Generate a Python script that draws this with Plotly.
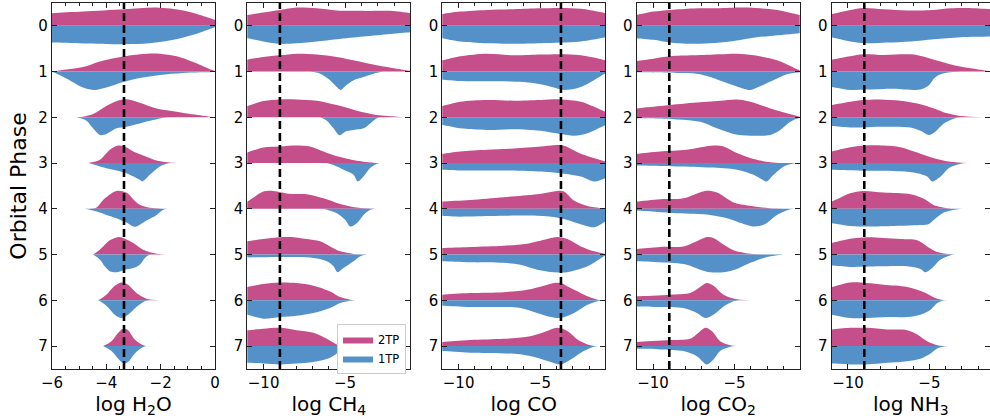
import plotly.graph_objects as go

# ---------------- data ----------------
PHASES = [0, 1, 2, 3, 4, 5, 6, 7]
MOLECULES = ["H2O", "CH4", "CO", "CO2", "NH3"]
X_TITLES = ["log H<sub>2</sub>O", "log CH<sub>4</sub>", "log CO", "log CO<sub>2</sub>", "log NH<sub>3</sub>"]
X_RANGES = [[-6, 0], [-11, -1], [-11, -1], [-11, -1], [-11, -1.28]]
X_TICKVALS = [[-6, -4, -2, 0], [-10, -5], [-10, -5], [-10, -5], [-10, -5]]
X_TICKTEXT = [["\u22126", "\u22124", "\u22122", "0"], ["\u221210", "\u22125"], ["\u221210", "\u22125"],
              ["\u221210", "\u22125"], ["\u221210", "\u22125"]]
X_MINOR = [0.5, 1, 1, 1, 1]
TRUE_VALUES = [-3.35, -9.0, -3.72, -9.0, -9.0]
SERIES = ["2TP", "1TP"]

# violin half-profiles: per phase a list of (log abundance, relative density 0..1)
H2O_2TP = [
    [(-6.5, 0.6), (-6, 0.69), (-4.86, 0.78), (-3.34, 0.91), (-2.15, 1.0), (-1.17, 0.84), (-0.55, 0.6), (0, 0.33), (0.25, 0.15), (0.5, 0)],
    [(-5.96, 0), (-5.47, 0.11), (-4.86, 0.25), (-4.24, 0.56), (-3.63, 0.76), (-3.01, 0.91), (-2.52, 0.98), (-2.03, 0.98), (-1.41, 0.84), (-0.8, 0.53), (0, 0.04), (0.2, 0)],
    [(-5.47, 0), (-4.86, 0.04), (-4.49, 0.18), (-4.0, 0.62), (-3.5, 0.95), (-3.2, 0.98), (-2.77, 0.8), (-2.15, 0.49), (-1.41, 0.31), (-0.55, 0.11), (-0.06, 0)],
    [(-4.67, 0), (-4.24, 0.18), (-3.87, 0.73), (-3.56, 0.96), (-3.32, 0.91), (-3.01, 0.64), (-2.64, 0.42), (-2.15, 0.15), (-1.53, 0.02), (-1.2, 0)],
    [(-4.79, 0), (-4.36, 0.08), (-4.12, 0.49), (-3.63, 0.98), (-3.26, 0.89), (-3.01, 0.53), (-2.77, 0.22), (-2.40, 0.06), (-1.9, 0)],
    [(-4.49, 0), (-4.24, 0.27), (-3.87, 0.78), (-3.56, 0.96), (-3.38, 0.91), (-3.01, 0.64), (-2.64, 0.27), (-2.15, 0.05), (-1.66, 0)],
    [(-4.30, 0), (-4.0, 0.31), (-3.69, 0.8), (-3.44, 0.98), (-3.20, 0.85), (-2.89, 0.4), (-2.52, 0.09), (-2.03, 0)],
    [(-4.12, 0), (-3.81, 0.27), (-3.56, 0.73), (-3.36, 0.96), (-3.20, 0.87), (-2.95, 0.36), (-2.64, 0.05), (-2.33, 0)],
]
H2O_1TP = [
    [(-6.5, 0.88), (-6, 0.91), (-4.86, 0.96), (-3.34, 1.0), (-2.4, 0.95), (-1.53, 0.76), (-0.8, 0.49), (0, 0.07), (0.2, 0)],
    [(-6.0, 0), (-5.47, 0.38), (-4.86, 0.87), (-4.43, 1.0), (-4.0, 0.87), (-3.34, 0.56), (-2.77, 0.35), (-2.03, 0.18), (-1.17, 0.07), (0, 0.02), (0.2, 0)],
    [(-5.10, 0), (-4.73, 0.18), (-4.49, 0.6), (-4.24, 0.96), (-4.0, 0.91), (-3.63, 0.6), (-3.26, 0.51), (-2.77, 0.33), (-2.27, 0.15), (-1.90, 0.02), (-1.7, 0)],
    [(-4.67, 0), (-4.24, 0.18), (-3.75, 0.36), (-3.26, 0.55), (-2.77, 0.91), (-2.67, 1.0), (-2.40, 0.64), (-2.03, 0.18), (-1.66, 0)],
    [(-4.79, 0), (-4.36, 0.15), (-4.0, 0.33), (-3.63, 0.51), (-3.26, 0.75), (-3.01, 0.96), (-2.89, 0.96), (-2.52, 0.64), (-2.15, 0.33), (-1.90, 0.05), (-1.7, 0)],
    [(-4.49, 0), (-4.24, 0.27), (-4.06, 0.64), (-3.87, 0.91), (-3.63, 0.96), (-3.32, 0.82), (-3.01, 0.73), (-2.77, 0.55), (-2.58, 0.18), (-2.40, 0)],
    [(-4.30, 0), (-4.0, 0.29), (-3.69, 0.78), (-3.44, 0.96), (-3.20, 0.78), (-2.89, 0.36), (-2.58, 0.05), (-2.4, 0)],
    [(-4.12, 0), (-3.81, 0.27), (-3.56, 0.69), (-3.36, 0.95), (-3.20, 0.87), (-2.95, 0.4), (-2.64, 0.05), (-2.45, 0)],
]
CH4_2TP = [
    [(-11.5, 0.55), (-11, 0.6), (-10.02, 0.73), (-8.99, 0.87), (-7.97, 1.0), (-6.74, 0.96), (-5.51, 0.84), (-3.87, 0.82), (-2.23, 0.82), (-1.0, 0.69), (-0.5, 0.6)],
    [(-11.5, 0.55), (-11, 0.65), (-10.02, 0.8), (-8.99, 0.89), (-7.97, 0.98), (-6.74, 0.93), (-5.51, 0.8), (-4.28, 0.58), (-3.05, 0.35), (-1.82, 0.16), (-1.0, 0.04), (-0.7, 0)],
    [(-11.5, 0.5), (-11, 0.62), (-10.02, 0.89), (-8.99, 0.98), (-7.97, 0.98), (-6.74, 0.91), (-5.51, 0.67), (-4.28, 0.36), (-3.05, 0.13), (-1.82, 0.04), (-1.41, 0)],
    [(-11.5, 0.45), (-11, 0.58), (-10.02, 0.85), (-8.99, 0.91), (-7.97, 0.96), (-7.15, 0.91), (-6.33, 0.64), (-5.30, 0.33), (-4.28, 0.13), (-3.25, 0.02), (-3.0, 0)],
    [(-11.5, 0.25), (-11, 0.4), (-10.02, 0.95), (-9.40, 0.98), (-8.38, 0.82), (-7.35, 0.8), (-6.33, 0.58), (-5.30, 0.27), (-4.28, 0.07), (-3.05, 0)],
    [(-11.5, 0.65), (-11, 0.73), (-10.02, 0.85), (-8.99, 0.95), (-8.38, 0.96), (-7.35, 0.85), (-6.53, 0.73), (-5.92, 0.45), (-5.30, 0.18), (-4.48, 0.04), (-3.87, 0)],
    [(-11.5, 0.65), (-11, 0.73), (-10.02, 0.89), (-8.99, 0.98), (-7.97, 0.95), (-6.94, 0.8), (-5.92, 0.49), (-5.30, 0.18), (-4.69, 0.04), (-3.87, 0)],
    [(-11.5, 0.85), (-11, 0.87), (-10.02, 0.95), (-8.99, 1.0), (-7.97, 0.87), (-6.94, 0.73), (-6.12, 0.4), (-5.51, 0.09), (-5.10, 0)],
]
CH4_1TP = [
    [(-11.5, 0.6), (-11, 0.67), (-10.02, 0.85), (-8.99, 0.98), (-7.97, 0.95), (-6.74, 0.85), (-5.51, 0.73), (-3.87, 0.58), (-2.23, 0.44), (-1.0, 0.35), (-0.5, 0.3)],
    [(-7.15, 0), (-6.53, 0.11), (-5.92, 0.47), (-5.51, 0.84), (-5.26, 1.0), (-5.0, 0.8), (-4.48, 0.47), (-3.87, 0.29), (-3.25, 0.11), (-2.64, 0)],
    [(-6.53, 0), (-6.12, 0.18), (-5.71, 0.6), (-5.34, 0.98), (-5.0, 0.78), (-4.48, 0.69), (-3.87, 0.6), (-3.46, 0.33), (-3.05, 0.05), (-2.85, 0)],
    [(-6.12, 0), (-5.51, 0.18), (-4.89, 0.45), (-4.48, 0.64), (-4.22, 1.0), (-3.87, 0.73), (-3.46, 0.27), (-3.05, 0.04), (-2.85, 0)],
    [(-6.33, 0), (-5.51, 0.24), (-5.0, 0.6), (-4.69, 0.96), (-4.28, 0.78), (-3.87, 0.33), (-3.46, 0.05), (-3.2, 0)],
    [(-11.5, 0.13), (-11, 0.15), (-8.99, 0.13), (-6.94, 0.18), (-6.12, 0.36), (-5.71, 0.64), (-5.47, 0.96), (-5.10, 0.73), (-4.48, 0.36), (-4.07, 0.09), (-3.66, 0)],
    [(-11.5, 0.7), (-11, 0.78), (-10.02, 1.0), (-8.99, 0.91), (-7.97, 0.84), (-6.94, 0.69), (-5.92, 0.42), (-5.30, 0.15), (-4.69, 0.02), (-4.4, 0)],
    [(-11.5, 0.88), (-11, 0.91), (-10.02, 0.95), (-8.99, 1.0), (-7.97, 0.95), (-6.94, 0.87), (-5.92, 0.64), (-5.30, 0.27), (-4.89, 0.04), (-4.6, 0)],
]
CO_2TP = [
    [(-11.5, 0.6), (-11, 0.65), (-9.91, 0.78), (-8.26, 0.87), (-6.62, 0.91), (-4.97, 0.96), (-3.74, 0.98), (-2.50, 0.93), (-1.0, 0.69), (-0.5, 0.55)],
    [(-11.5, 0.55), (-11, 0.62), (-9.91, 0.84), (-8.26, 0.98), (-6.62, 0.89), (-4.97, 0.93), (-3.74, 0.95), (-2.50, 0.89), (-1.0, 0.62), (-0.5, 0.5)],
    [(-11.5, 0.55), (-11, 0.62), (-9.91, 0.85), (-8.26, 0.95), (-6.62, 0.91), (-4.97, 0.95), (-3.74, 0.98), (-2.50, 0.85), (-1.0, 0.31), (-0.5, 0.15)],
    [(-11.5, 0.45), (-11, 0.51), (-9.91, 0.64), (-8.26, 0.73), (-6.62, 0.8), (-4.97, 0.91), (-4.15, 0.98), (-3.53, 0.95), (-2.50, 0.51), (-1.0, 0.09), (-0.6, 0)],
    [(-11.5, 0.35), (-11, 0.4), (-9.29, 0.49), (-7.23, 0.64), (-5.18, 0.8), (-3.94, 0.98), (-3.53, 0.95), (-2.91, 0.45), (-2.09, 0.16), (-1.27, 0.04), (-1.0, 0)],
    [(-11.5, 0.33), (-11, 0.36), (-9.29, 0.42), (-7.23, 0.49), (-5.79, 0.6), (-4.56, 0.85), (-3.94, 0.96), (-3.33, 0.85), (-2.50, 0.45), (-1.68, 0.18), (-1.0, 0.04), (-0.7, 0)],
    [(-11.5, 0.28), (-11, 0.31), (-9.29, 0.4), (-7.23, 0.45), (-5.79, 0.58), (-4.77, 0.8), (-4.15, 0.95), (-3.74, 0.95), (-3.12, 0.67), (-2.09, 0.22), (-1.47, 0.04), (-1.0, 0)],
    [(-11.5, 0.2), (-11, 0.22), (-9.29, 0.33), (-7.23, 0.4), (-5.79, 0.51), (-4.77, 0.76), (-3.94, 1.0), (-3.33, 0.82), (-2.71, 0.36), (-2.09, 0.09), (-1.68, 0)],
]
CO_1TP = [
    [(-11.5, 0.6), (-11, 0.67), (-9.91, 0.85), (-8.26, 0.95), (-6.62, 0.98), (-4.97, 0.95), (-3.74, 0.91), (-2.50, 0.85), (-1.0, 0.62), (-0.5, 0.5)],
    [(-11.5, 0.42), (-11, 0.44), (-9.91, 0.51), (-8.26, 0.53), (-6.21, 0.56), (-4.97, 0.69), (-4.15, 0.87), (-3.53, 1.0), (-2.50, 0.84), (-1.0, 0.1), (-0.7, 0)],
    [(-11.5, 0.38), (-11, 0.42), (-9.91, 0.6), (-8.26, 0.69), (-6.62, 0.65), (-4.97, 0.73), (-3.74, 0.91), (-2.91, 1.0), (-2.09, 0.87), (-1.0, 0.42), (-0.5, 0.2)],
    [(-11.5, 0.33), (-11, 0.36), (-9.91, 0.4), (-8.26, 0.4), (-6.21, 0.42), (-4.56, 0.49), (-3.53, 0.58), (-2.50, 0.73), (-1.68, 1.0), (-1.0, 0.82), (-0.5, 0.6)],
    [(-11.5, 0.36), (-11, 0.38), (-10.32, 0.42), (-9.29, 0.42), (-7.23, 0.38), (-5.18, 0.38), (-3.74, 0.51), (-2.71, 0.78), (-1.68, 1.0), (-1.0, 0.69), (-0.5, 0.4)],
    [(-11.5, 0.33), (-11, 0.36), (-9.29, 0.42), (-7.23, 0.45), (-6.21, 0.55), (-5.18, 0.82), (-4.15, 0.96), (-3.33, 0.96), (-2.09, 0.64), (-1.0, 0.05), (-0.8, 0)],
    [(-11.5, 0.27), (-11, 0.29), (-9.29, 0.36), (-7.23, 0.36), (-6.21, 0.42), (-5.18, 0.69), (-4.35, 0.91), (-3.74, 0.96), (-2.91, 0.69), (-2.09, 0.24), (-1.47, 0.05), (-1.2, 0)],
    [(-11.5, 0.25), (-11, 0.27), (-9.29, 0.36), (-7.23, 0.4), (-6.21, 0.45), (-5.18, 0.64), (-4.35, 0.87), (-3.74, 1.0), (-3.12, 0.73), (-2.50, 0.36), (-1.88, 0.09), (-1.47, 0)],
]
CO2_2TP = [
    [(-11.5, 0.55), (-11, 0.6), (-9.98, 0.78), (-8.95, 0.87), (-7.52, 0.95), (-6.08, 0.96), (-4.44, 1.0), (-3.42, 0.96), (-2.39, 0.87), (-1.0, 0.6), (-0.5, 0.5)],
    [(-11.5, 0.5), (-11, 0.58), (-9.98, 0.71), (-8.95, 0.84), (-7.52, 0.89), (-5.88, 0.95), (-4.85, 0.98), (-3.83, 0.89), (-2.39, 0.62), (-1.0, 0.07), (-0.7, 0)],
    [(-11.5, 0.45), (-11, 0.49), (-9.57, 0.62), (-7.52, 0.8), (-5.88, 0.91), (-4.85, 0.98), (-4.03, 0.85), (-2.80, 0.49), (-1.78, 0.22), (-1.0, 0.04), (-0.7, 0)],
    [(-11.5, 0.45), (-11, 0.51), (-9.57, 0.64), (-7.93, 0.73), (-6.29, 0.96), (-5.67, 0.91), (-4.85, 0.55), (-3.83, 0.22), (-2.80, 0.05), (-1.98, 0)],
    [(-11.5, 0.35), (-11, 0.4), (-9.57, 0.53), (-8.13, 0.58), (-6.80, 0.98), (-6.08, 0.89), (-5.06, 0.35), (-4.44, 0.22), (-3.42, 0.09), (-2.39, 0.02), (-1.57, 0)],
    [(-11.5, 0.28), (-11, 0.31), (-9.57, 0.42), (-8.13, 0.45), (-7.31, 0.73), (-6.70, 0.96), (-6.29, 0.91), (-5.67, 0.55), (-5.06, 0.24), (-4.03, 0.05), (-2.39, 0)],
    [(-11.5, 0.2), (-11, 0.22), (-8.95, 0.31), (-7.72, 0.4), (-7.11, 0.73), (-6.70, 0.95), (-6.29, 0.8), (-5.67, 0.31), (-4.85, 0.06), (-3.6, 0)],
    [(-11.5, 0.2), (-11, 0.22), (-8.95, 0.33), (-7.72, 0.4), (-7.21, 0.73), (-6.80, 1.0), (-6.39, 0.82), (-5.88, 0.27), (-5.26, 0.05), (-4.3, 0)],
]
CO2_1TP = [
    [(-11.5, 0.6), (-11, 0.67), (-9.98, 0.76), (-8.95, 0.91), (-7.93, 0.98), (-6.49, 0.95), (-5.26, 0.85), (-4.03, 0.67), (-2.80, 0.55), (-1.0, 0.4), (-0.5, 0.35)],
    [(-11.5, 0.03), (-11, 0.04), (-8.54, 0.07), (-7.31, 0.11), (-6.49, 0.29), (-5.47, 0.62), (-4.44, 0.93), (-4.03, 1.0), (-3.42, 0.8), (-2.39, 0.38), (-1.78, 0.15), (-1.0, 0.04), (-0.7, 0)],
    [(-11.5, 0.04), (-11, 0.05), (-8.54, 0.11), (-7.11, 0.24), (-6.08, 0.6), (-5.06, 0.91), (-4.03, 1.0), (-2.80, 0.96), (-2.19, 0.69), (-1.57, 0.24), (-1.0, 0.02), (-0.8, 0)],
    [(-11.5, 0.12), (-11, 0.13), (-8.54, 0.18), (-6.49, 0.24), (-4.85, 0.36), (-3.83, 0.64), (-3.21, 0.95), (-3.01, 1.0), (-2.60, 0.64), (-1.98, 0.18), (-1.47, 0.04), (-1.2, 0)],
    [(-11.5, 0.08), (-11, 0.09), (-8.54, 0.24), (-6.49, 0.33), (-5.47, 0.51), (-4.44, 0.82), (-3.83, 0.96), (-3.21, 0.87), (-2.39, 0.33), (-1.57, 0.02), (-1.3, 0)],
    [(-11.5, 0.33), (-11, 0.36), (-9.57, 0.42), (-7.93, 0.55), (-7.11, 0.82), (-6.49, 0.96), (-5.67, 0.96), (-4.85, 0.78), (-4.03, 0.45), (-3.21, 0.18), (-2.39, 0.04), (-2.0, 0)],
    [(-11.5, 0.3), (-11, 0.33), (-9.57, 0.36), (-8.13, 0.42), (-7.31, 0.69), (-6.80, 0.96), (-6.29, 0.78), (-5.67, 0.33), (-5.06, 0.05), (-4.7, 0)],
    [(-11.5, 0.13), (-11, 0.15), (-9.57, 0.18), (-8.13, 0.27), (-7.31, 0.55), (-6.70, 1.0), (-6.29, 0.73), (-5.88, 0.27), (-5.26, 0.04), (-4.9, 0)],
]
NH3_2TP = [
    [(-11.5, 0.58), (-11, 0.65), (-9.87, 0.87), (-9.05, 0.98), (-7.81, 0.91), (-6.37, 0.84), (-4.72, 0.87), (-3.70, 0.96), (-2.67, 0.98), (-1.23, 0.91), (-0.5, 0.85)],
    [(-11.5, 0.55), (-11, 0.65), (-9.87, 0.84), (-9.05, 0.95), (-7.81, 0.91), (-5.96, 0.93), (-4.72, 0.65), (-3.49, 0.35), (-2.26, 0.16), (-1.23, 0.02), (-1.0, 0)],
    [(-11.5, 0.58), (-11, 0.67), (-9.87, 0.85), (-9.05, 0.95), (-8.02, 0.98), (-6.78, 0.91), (-5.75, 0.76), (-4.72, 0.49), (-3.90, 0.22), (-3.08, 0.07), (-1.64, 0)],
    [(-11.5, 0.55), (-11, 0.64), (-9.87, 0.87), (-9.05, 0.96), (-7.81, 0.96), (-6.78, 0.87), (-5.75, 0.58), (-4.72, 0.27), (-3.70, 0.07), (-2.67, 0)],
    [(-11.5, 0.3), (-11, 0.4), (-9.87, 0.85), (-9.05, 0.98), (-7.81, 0.89), (-6.16, 0.8), (-5.34, 0.55), (-4.72, 0.2), (-3.90, 0.04), (-3.28, 0)],
    [(-11.5, 0.55), (-11, 0.64), (-9.87, 0.87), (-8.84, 0.95), (-7.81, 0.91), (-6.78, 0.85), (-5.75, 0.78), (-5.14, 0.45), (-4.52, 0.15), (-3.70, 0.02), (-3.2, 0)],
    [(-11.5, 0.65), (-11, 0.73), (-9.87, 0.98), (-8.84, 0.95), (-7.81, 0.85), (-6.37, 0.73), (-5.34, 0.44), (-4.52, 0.09), (-3.90, 0)],
    [(-11.5, 0.88), (-11, 0.91), (-9.87, 1.0), (-8.84, 1.0), (-7.60, 0.91), (-6.37, 0.87), (-5.75, 0.64), (-5.14, 0.27), (-4.52, 0.05), (-4.11, 0)],
]
NH3_1TP = [
    [(-11.5, 0.55), (-11, 0.62), (-9.87, 0.85), (-8.84, 0.95), (-7.60, 0.91), (-6.16, 0.85), (-4.72, 0.73), (-3.08, 0.62), (-1.23, 0.58), (-0.5, 0.55)],
    [(-11.5, 0.78), (-11, 0.84), (-9.87, 1.0), (-8.84, 0.98), (-7.19, 0.93), (-5.55, 0.98), (-5.03, 0.75), (-4.72, 0.38), (-4.31, 0.15), (-3.70, 0.04), (-3.08, 0)],
    [(-11.5, 0.45), (-11, 0.47), (-9.87, 0.55), (-7.81, 0.51), (-6.16, 0.55), (-5.55, 0.73), (-5.03, 0.96), (-4.72, 0.84), (-4.11, 0.33), (-3.49, 0.07), (-3.08, 0)],
    [(-11.5, 0.34), (-11, 0.36), (-8.84, 0.42), (-6.78, 0.45), (-5.75, 0.55), (-5.14, 0.73), (-4.83, 1.0), (-4.31, 0.73), (-3.80, 0.27), (-3.08, 0.04), (-2.67, 0)],
    [(-11.5, 0.75), (-11, 0.78), (-9.87, 0.93), (-8.84, 0.96), (-7.19, 0.93), (-5.96, 0.89), (-5.03, 0.82), (-4.72, 0.6), (-4.11, 0.2), (-3.28, 0.02), (-3.0, 0)],
    [(-11.5, 0.58), (-11, 0.6), (-9.87, 0.67), (-7.81, 0.64), (-6.37, 0.64), (-5.55, 0.78), (-5.24, 0.96), (-4.83, 0.73), (-4.31, 0.27), (-3.70, 0.04), (-3.4, 0)],
    [(-11.5, 0.75), (-11, 0.78), (-9.87, 0.96), (-8.84, 0.96), (-7.60, 0.91), (-6.37, 0.91), (-5.55, 0.78), (-4.93, 0.51), (-4.52, 0.15), (-4.11, 0)],
    [(-11.5, 0.93), (-11, 0.95), (-9.87, 1.0), (-8.84, 1.0), (-7.60, 0.91), (-6.37, 0.82), (-5.55, 0.69), (-4.93, 0.4), (-4.52, 0.13), (-4.11, 0.02), (-3.9, 0)],
]
PROFILES_2TP = [H2O_2TP, CH4_2TP, CO_2TP, CO2_2TP, NH3_2TP]
PROFILES_1TP = [H2O_1TP, CH4_1TP, CO_1TP, CO2_1TP, NH3_1TP]

# ---------------- style / layout ----------------
W, H = 990, 419
COL_2TP = "#c44f8b"
COL_1TP = "#5591c9"
HALF = 0.4           # max half-width of a violin in category units
FONT = "DejaVu Sans"
AX_COL = "#222222"
PANEL_LEFT_PX = [52, 247.3, 442.3, 636.7, 831.7]
PANEL_W_PX = 163
TOP_PX, BOT_PX = 3, 369

fig = go.Figure()


def add_half(prof, c, sign, color, xa, ya, name, show):
    xs = [p[0] for p in prof]
    ys = [c + sign * HALF * p[1] for p in prof]
    if prof[0][1] != 0:
        xs = [xs[0]] + xs
        ys = [c] + ys
    if prof[-1][1] != 0:
        xs = xs + [xs[-1]]
        ys = ys + [c]
    fig.add_trace(go.Scatter(
        x=xs, y=ys, mode="lines", fill="toself", fillcolor=color,
        line=dict(width=0, color=color, shape="spline", smoothing=0.9),
        xaxis=xa, yaxis=ya, name=name, showlegend=show, hoverinfo="skip"))


for i in range(5):
    xa = "x" if i == 0 else f"x{i+1}"
    ya = "y" if i == 0 else f"y{i+1}"
    for c in PHASES:
        add_half(PROFILES_2TP[i][c], c, -1, COL_2TP, xa, ya, SERIES[0], i == 0 and c == 0)
    for c in PHASES:
        add_half(PROFILES_1TP[i][c], c, +1, COL_1TP, xa, ya, SERIES[1], i == 0 and c == 0)

layout = dict(
    width=W, height=H, margin=dict(l=0, r=0, t=0, b=0, autoexpand=False),
    paper_bgcolor="white", plot_bgcolor="white",
    font=dict(family=FONT, color="black", size=15),
    showlegend=True,
    legend=dict(x=337 / W, y=1 - 324 / H, xanchor="left", yanchor="top",
                bgcolor="white", bordercolor="#cccccc", borderwidth=1,
                font=dict(size=11.5, family=FONT), itemwidth=30, traceorder="normal",
                tracegroupgap=0),
)
ydom = [1 - BOT_PX / H, 1 - TOP_PX / H]
shapes = []
for i in range(5):
    k = "" if i == 0 else str(i + 1)
    x0 = PANEL_LEFT_PX[i] / W
    x1 = min(1.0, (PANEL_LEFT_PX[i] + PANEL_W_PX) / W)
    layout["xaxis" + k] = dict(
        domain=[x0, x1], range=X_RANGES[i], anchor="y" + k, automargin=False,
        tickmode="array", tickvals=X_TICKVALS[i], ticktext=X_TICKTEXT[i],
        ticks="inside", ticklen=5, tickwidth=1, tickcolor=AX_COL,
        minor=dict(dtick=X_MINOR[i], tick0=0, ticks="inside", ticklen=2.5, tickcolor=AX_COL, showgrid=False),
        showline=True, linecolor=AX_COL, linewidth=1.2, mirror="ticks",
        showgrid=False, zeroline=False,
        tickfont=dict(size=15, family=FONT, color="black"),
        title=dict(text=X_TITLES[i], font=dict(size=20, family=FONT, color="black"), standoff=3),
    )
    layout["yaxis" + k] = dict(
        domain=ydom, range=[7.5, -0.5], anchor="x" + k, automargin=False,
        tickmode="array", tickvals=PHASES, ticktext=[str(p) for p in PHASES],
        ticks="inside", ticklen=5, tickwidth=1, tickcolor=AX_COL,
        showline=True, linecolor=AX_COL, linewidth=1.2, mirror="ticks",
        showgrid=False, zeroline=False,
        tickfont=dict(size=15, family=FONT, color="black"),
    )
    shapes.append(dict(type="line", xref="x" + k, yref=f"y{k} domain",
                       x0=TRUE_VALUES[i], x1=TRUE_VALUES[i], y0=0, y1=1,
                       line=dict(color="black", width=2.6, dash="8px,4px"), layer="above"))
layout["yaxis"]["title"] = dict(text="Orbital Phase", font=dict(size=22, family=FONT, color="black"), standoff=5)
layout["shapes"] = shapes
fig.update_layout(**layout)

fig.write_html("out.html")
